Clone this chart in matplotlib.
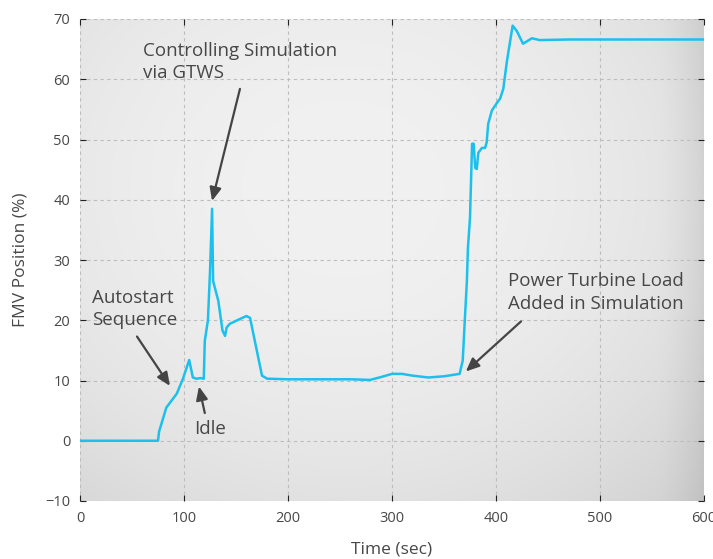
import numpy as np
import matplotlib
matplotlib.use("Agg")
import matplotlib.pyplot as plt

# ---- data ----
time_s = [0, 20, 40, 60, 75, 76, 83, 93, 99, 105, 108.5, 112, 116, 119, 120, 123,
          125, 127, 128, 133, 137, 139.5, 141, 144, 150, 160, 163.5, 175, 180,
          200, 230, 260, 279, 290, 300, 309.6, 320, 335, 350, 365, 368, 370, 372,
          373, 375, 377, 378.5, 380, 381.5, 383, 386.5, 389.5, 391, 392.5, 396,
          401, 404, 407, 410.5, 416, 420, 426, 434.5, 442, 470, 500, 530, 560, 600]
fmv_pct = [0, 0, 0, 0, 0, 1.5, 5.5, 7.8, 10.3, 13.4, 10.5, 10.3, 10.4, 10.3, 16.6, 20,
           28, 38.5, 26.5, 23.2, 18.3, 17.4, 18.8, 19.4, 19.9, 20.7, 20.4, 10.8, 10.3,
           10.2, 10.2, 10.2, 10.1, 10.6, 11.1, 11.1, 10.8, 10.5, 10.7, 11.1, 13.3, 20, 26.5,
           32, 37, 49.3, 49.3, 45.3, 45.1, 47.8, 48.6, 48.6, 49.5, 52.6, 54.8,
           56.1, 56.8, 58.4, 63, 68.9, 68, 65.9, 66.8, 66.5, 66.6, 66.6, 66.6, 66.6, 66.6]

x_ticks = [0, 100, 200, 300, 400, 500, 600]
y_ticks = [-10, 0, 10, 20, 30, 40, 50, 60, 70]

annotations = [
    ("Controlling Simulation\nvia GTWS", (127, 39.8), (153.8, 58.4), (60.6, 66.2)),
    ("Autostart\nSequence", (86.5, 9.1), (54.8, 17.3), (11.5, 25.2)),
    ("Idle", (114.4, 9.0), (120, 4.6), (109.6, 3.5)),
    ("Power Turbine Load\nAdded in Simulation", (371, 11.5), (424, 19.8), (411.5, 28.0)),
]

txt_color = "#474747"
line_color = "#1cc0ec"

plt.rcParams['font.family'] = ['Open Sans', 'DejaVu Sans']

fig = plt.figure(figsize=(7.13, 5.59), dpi=100)
fig.patch.set_facecolor("white")
ax = fig.add_axes([80/713, 1-501/559, (704-80)/713, (501-19)/559])

# gradient background
ny, nx = 200, 300
yy, xx = np.mgrid[0:ny, 0:nx]
cx, cy = 0.42, 0.35
r = np.sqrt(((xx/nx - cx)/0.75)**2 + ((yy/ny - cy)/0.85)**2)
val = 0.945 - 0.11*r**2.2
val = np.clip(val, 0.78, 0.95)
val -= 0.06*np.clip((xx/nx - 0.92)/0.08, 0, 1)**1.5
img = np.dstack([val, val, val])
ax.imshow(img, extent=[0, 600, -10, 70], aspect='auto', origin='upper', zorder=0)

ax.set_xlim(0, 600)
ax.set_ylim(-10, 70)
ax.set_xticks(x_ticks)
ax.set_yticks(y_ticks)
for s in ax.spines.values():
    s.set_visible(False)
ax.tick_params(direction='in', length=4, width=0.8, color='#222222',
               top=True, right=True, labelsize=10.5, labelcolor=txt_color, pad=7)
ax.grid(True, color='#bdbdbd', linestyle=(0, (3, 3)), linewidth=0.8, zorder=1)

ax.plot(time_s, fmv_pct, color=line_color, linewidth=1.8, zorder=3)

for text, xy, xytext, tpos in annotations:
    ax.annotate("", xy=xy, xytext=xytext,
                arrowprops=dict(arrowstyle="-|>,head_length=0.8,head_width=0.35",
                                color="#444444", lw=1.6, shrinkA=0, shrinkB=0), zorder=4)
    ax.text(tpos[0], tpos[1], text, color=txt_color, fontsize=13.5, ha='left', va='top',
            linespacing=1.32, zorder=5)

ax.set_xlabel("Time (sec)", fontsize=12.5, color=txt_color, labelpad=11)
ax.set_ylabel("FMV Position (%)", fontsize=12.5, color=txt_color, labelpad=12)

fig.savefig("out.png", dpi=100, facecolor="white")
